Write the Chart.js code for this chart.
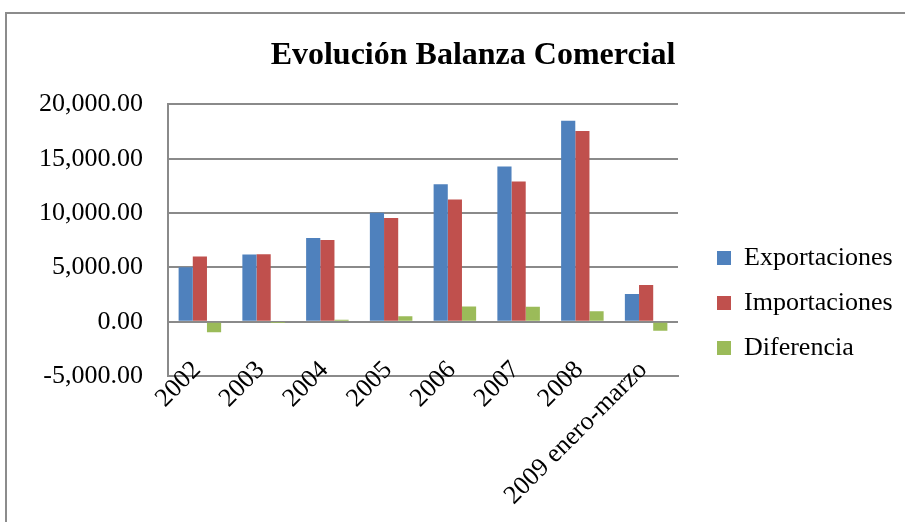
<!DOCTYPE html>
<html>
<head>
<meta charset="utf-8">
<script src="https://cdn.jsdelivr.net/npm/chart.js@4/dist/chart.umd.min.js"></script>
<style>
  html, body { margin: 0; padding: 0; background: #ffffff; overflow: hidden; }
  #frame { position: absolute; left: 5px; top: 12px; width: 1000px; height: 600px;
           border-left: 2px solid #8c8c8c; border-top: 2px solid #8c8c8c; }
  #wrap { position: absolute; left: 0; top: 0; width: 905px; height: 522px; }
</style>
</head>
<body>
<div id="frame"></div>
<div id="wrap"><canvas id="c" width="905" height="522"></canvas></div>
<script>
const categories = ['2002', '2003', '2004', '2005', '2006', '2007', '2008', '2009 enero-marzo'];
const exportaciones = [5020, 6180, 7700, 10030, 12650, 14280, 18500, 2540];
const importaciones = [6000, 6210, 7520, 9540, 11250, 12900, 17550, 3365];
const diferencia = [-980, -30, 170, 490, 1400, 1380, 950, -825];
const yTicks = [-5000, 0, 5000, 10000, 15000, 20000];

const FONT = 'Liberation Serif';
const GRID = '#8a8a8a';

const layoutFix = {
  id: 'layoutFix',
  beforeLayout(chart) {
    const lg = chart.legend;
    if (lg && !lg._patched) {
      const orig = lg.fit;
      lg.fit = function () { orig.call(this); this.width = 227; };
      lg._patched = true;
    }
  },
  afterLayout(chart) {
    if (chart.titleBlock) { chart.titleBlock.left = 0; chart.titleBlock.right = 946; }
    if (chart.legend) {
      const h = chart.legend.bottom - chart.legend.top;
      chart.legend.left = 698; chart.legend.right = 905;
      chart.legend.top = 226; chart.legend.bottom = 226 + h;
    }
  }
};

new Chart(document.getElementById('c'), {
  type: 'bar',
  data: {
    labels: categories,
    datasets: [
      { label: 'Exportaciones', data: exportaciones, backgroundColor: '#4F81BD' },
      { label: 'Importaciones', data: importaciones, backgroundColor: '#C0504D' },
      { label: 'Diferencia', data: diferencia, backgroundColor: '#9BBB59' }
    ]
  },
  options: {
    responsive: false,
    animation: false,
    events: [],
    datasets: { bar: { categoryPercentage: 0.667, barPercentage: 1.0, borderWidth: 0 } },
    layout: { padding: 0 },
    plugins: {
      title: {
        display: true,
        text: 'Evolución Balanza Comercial',
        color: '#000',
        font: { family: FONT, size: 32, weight: 'bold' },
        padding: { top: 37, bottom: 29 }
      },
      legend: {
        position: 'right',
        align: 'start',
        labels: {
          color: '#000',
          font: { family: FONT, size: 26 },
          boxWidth: 14, boxHeight: 14,
          padding: 19
        }
      },
      tooltip: { enabled: false }
    },
    scales: {
      x: {
        grid: { drawOnChartArea: false, drawTicks: false },
        border: { display: true, color: GRID, width: 2 },
        ticks: {
          autoSkip: false, minRotation: 45, maxRotation: 45, padding: -21, labelOffset: -3,
          color: '#000', font: { family: FONT, size: 26 }
        },
        afterFit(scale) {
          scale.height = 146;
          scale._computeLabelArea = () => undefined;
        }
      },
      y: {
        min: -5000, max: 20000,
        grid: { color: GRID, lineWidth: 2, drawTicks: false },
        border: { display: true, color: GRID, width: 2 },
        afterBuildTicks(scale) { scale.ticks = yTicks.map(v => ({ value: v })); },
        ticks: {
          padding: 25, color: '#000', font: { family: FONT, size: 26 },
          callback: v => Number(v).toLocaleString('en-US', { minimumFractionDigits: 2, maximumFractionDigits: 2 })
        },
        afterFit(scale) { scale.width = 168; }
      }
    }
  },
  plugins: [layoutFix]
});
</script>
</body>
</html>
